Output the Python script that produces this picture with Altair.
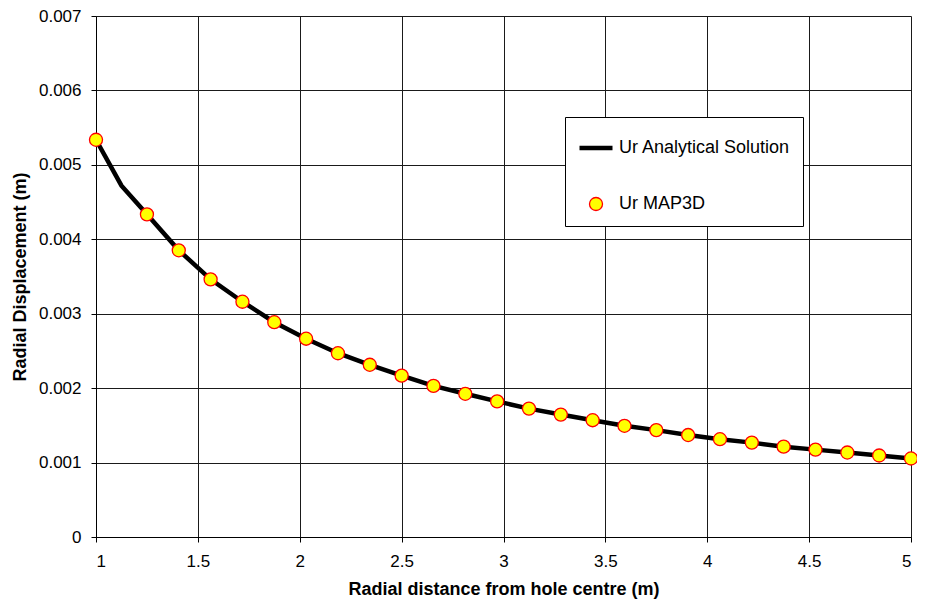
import altair as alt
import pandas as pd

# MAP3D results
r_map3d = [1.0, 1.25, 1.40625, 1.5625, 1.71875, 1.875, 2.03125, 2.1875, 2.34375,
           2.5, 2.65625, 2.8125, 2.96875, 3.125, 3.28125, 3.4375, 3.59375, 3.75,
           3.90625, 4.0625, 4.21875, 4.375, 4.53125, 4.6875, 4.84375, 5.0]
u_map3d = [0.005337, 0.004335, 0.003852, 0.003462, 0.003161, 0.002886, 0.002664,
           0.002469, 0.002314, 0.002168, 0.002030, 0.001924, 0.001822, 0.001725,
           0.001645, 0.001569, 0.001494, 0.001436, 0.001370, 0.001314, 0.001268,
           0.001214, 0.001174, 0.001135, 0.001095, 0.001055]

# Analytical solution polyline
r_anal = [1.0, 1.125, 1.25, 1.40625, 1.5625, 1.71875, 1.875, 2.03125, 2.1875, 2.34375,
          2.5, 2.65625, 2.8125, 2.96875, 3.125, 3.28125, 3.4375, 3.59375, 3.75,
          3.90625, 4.0625, 4.21875, 4.375, 4.53125, 4.6875, 4.84375, 5.0]
u_anal = [0.005337, 0.004720, 0.004335, 0.003852, 0.003462, 0.003161, 0.002886, 0.002664,
          0.002469, 0.002314, 0.002168, 0.002030, 0.001924, 0.001822, 0.001725,
          0.001645, 0.001569, 0.001494, 0.001436, 0.001370, 0.001314, 0.001268,
          0.001214, 0.001174, 0.001135, 0.001095, 0.001055]

series_names = ["Ur Analytical Solution", "Ur MAP3D"]
x_ticks = [1, 1.5, 2, 2.5, 3, 3.5, 4, 4.5, 5]
y_ticks = [0, 0.001, 0.002, 0.003, 0.004, 0.005, 0.006, 0.007]

df_line = pd.DataFrame({"r": r_anal, "u": u_anal, "series": series_names[0]})
df_pts = pd.DataFrame({"r": r_map3d, "u": u_map3d, "series": series_names[1]})

FONT = "Liberation Sans"
leg = alt.Legend(title=None)

x_enc = alt.X("r:Q", scale=alt.Scale(domain=[1, 5], nice=False, zero=False),
              axis=alt.Axis(values=x_ticks, format="~g",
                            title="Radial distance from hole centre (m)"))
y_enc = alt.Y("u:Q", scale=alt.Scale(domain=[0, 0.007], nice=False),
              axis=alt.Axis(values=y_ticks, format=".3~f",
                            title="Radial Displacement (m)"))

stroke_enc = alt.Stroke("series:N", scale=alt.Scale(domain=series_names, range=["black", "#FF0000"]), legend=leg)
sw_enc = alt.StrokeWidth("series:N", scale=alt.Scale(type="ordinal", domain=series_names, range=[4.5, 1.3]), legend=leg)

line = alt.Chart(df_line).mark_line(opacity=1).encode(
    x=x_enc, y=y_enc, stroke=stroke_enc, strokeWidth=sw_enc,
)

points = alt.Chart(df_pts).mark_point(filled=True, opacity=1).encode(
    x=x_enc, y=y_enc, stroke=stroke_enc, strokeWidth=sw_enc,
    fill=alt.Fill("series:N", scale=alt.Scale(domain=series_names, range=["transparent", "#FFFF00"]), legend=leg),
    shape=alt.Shape("series:N", scale=alt.Scale(domain=series_names, range=["stroke", "circle"]), legend=leg),
    size=alt.Size("series:N", scale=alt.Scale(type="ordinal", domain=series_names, range=[1089, 170]), legend=leg),
)

chart = alt.layer(line, points).properties(
    width=815, height=521,
    padding={"left": 88, "top": 8, "right": 6, "bottom": 62},
    autosize=alt.AutoSizeParams(type="none"),
    background="white",
).configure_view(
    strokeWidth=0,
).configure_axis(
    domainColor="black", domainWidth=1,
    tickColor="black", tickSize=5, tickWidth=1,
    gridColor="#1a1a1a", gridWidth=1, gridOpacity=1,
    labelFont=FONT, labelFontSize=17, labelColor="black",
    titleFont=FONT, titleFontSize=18, titleFontWeight="bold", titleColor="black",
).configure_axisX(
    labelPadding=11, titlePadding=11,
).configure_axisY(
    labelPadding=10, titlePadding=9,
).configure_legend(
    orient="none", legendX=469, legendY=101,
    strokeColor="black", fillColor="white", padding=12,
    labelFont=FONT, labelFontSize=18, labelColor="black", labelLimit=400,
    labelOffset=4, rowPadding=37, symbolOpacity=1,
)

chart.save("out.html", embed_options={"renderer": "svg", "actions": False})
